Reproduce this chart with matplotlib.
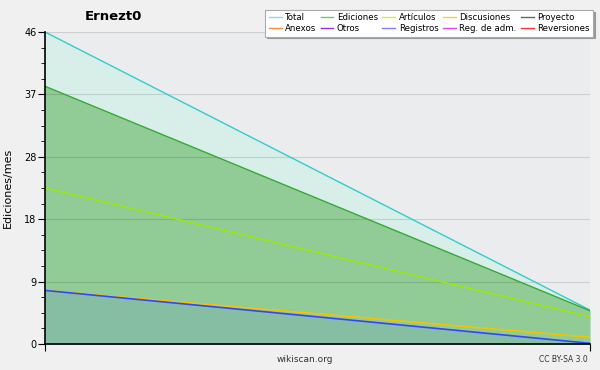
import matplotlib
matplotlib.use("Agg")
import matplotlib.pyplot as plt
from matplotlib.lines import Line2D

# two monthly points (start, end)
months = [0, 1]
total = [46.0, 5.0]
ediciones = [38.0, 4.9]
articulos = [23.0, 4.0]
discusiones = [7.9, 1.0]
registros = [7.9, 0.1]

legend_names = ["Total", "Ediciones", "Artículos", "Discusiones", "Proyecto",
                "Anexos", "Otros", "Registros", "Reg. de adm.", "Reversiones"]
legend_colors = ["#7fe0e0", "#66cc66", "#ccf533", "#ffcc33", "#666666",
                 "#ff8c3a", "#8a33e6", "#7f7fff", "#dd44ee", "#ff3333"]

y_ticks = [0, 9.2, 18.4, 27.6, 36.8, 46]
y_labels = ["0", "9", "18", "28", "37", "46"]

fig = plt.figure(figsize=(6, 3.7), dpi=100, facecolor="#f0f0f0")
ax = fig.add_axes([45 / 600, 1 - 344 / 370, 545 / 600, 312 / 370])
ax.set_facecolor("#ebecee")

ax.fill_between(months, total, color="#d8efe9", lw=0, zorder=1)
ax.fill_between(months, ediciones, color="#91cb95", lw=0, zorder=1)
ax.fill_between(months, registros, color="#86bea3", lw=0, zorder=1)

ax.plot(months, total, color="#33cccc", lw=1, zorder=3)
ax.plot(months, ediciones, color="#33aa33", lw=1, zorder=3)
ax.plot(months, articulos, color="#99ee00", lw=1, zorder=3)
ax.plot(months, discusiones, color="#f5c400", lw=1.2, zorder=3)
ax.plot(months, registros, color="#3344ff", lw=1.2, zorder=3)

ax.set_xlim(0, 1)
ax.set_ylim(0, 46)
ax.set_yticks(y_ticks)
ax.set_yticklabels(y_labels)
ax.set_yticks([i * 2.3 for i in range(21)], minor=True)
ax.set_xticks([0, 1])
ax.set_xticklabels([])
ax.tick_params(axis="y", which="major", length=5, labelsize=7, color="black", pad=1)
ax.tick_params(axis="y", which="minor", length=3)
ax.tick_params(axis="x", length=5)

# light gridlines drawn over the fills
for v in y_ticks[1:]:
    ax.axhline(v, color="black", alpha=0.12, lw=0.8, zorder=2)

for side in ["top", "right"]:
    ax.spines[side].set_visible(False)
ax.spines["left"].set_linewidth(1.2)
ax.spines["bottom"].set_linewidth(1.2)
ax.spines["left"].set_zorder(4)
ax.spines["bottom"].set_zorder(4)

ax.set_ylabel("Ediciones/mes", fontsize=8, labelpad=8)

# legend is filled row-wise in the reference
order = [0, 5, 1, 6, 2, 7, 3, 8, 4, 9]
handles = [Line2D([], [], color=legend_colors[i], lw=1) for i in order]
labels = [legend_names[i] for i in order]
leg = fig.legend(handles, labels, ncol=5, fontsize=6.2, loc="upper right",
                 bbox_to_anchor=(593 / 600, 1 - 10 / 370), frameon=True,
                 fancybox=False, edgecolor="#aaaaaa", handlelength=1.5,
                 handletextpad=0.4, columnspacing=0.5, labelspacing=0.2,
                 borderpad=0.4, borderaxespad=0, framealpha=1,
                 shadow={"color": "#999999", "alpha": 1, "ox": 1.2, "oy": -1.2})
leg.get_frame().set_linewidth(0.8)

fig.text(85 / 600, 1 - 17 / 370, "Ernezt0", fontsize=9.5, fontweight="bold", va="center")
fig.text(305 / 600, 1 - 359 / 370, "wikiscan.org", fontsize=6.5, ha="center", va="center", color="#333333")
fig.text(588 / 600, 1 - 360 / 370, "CC BY-SA 3.0", fontsize=5.5, ha="right", va="center", color="#333333")

fig.savefig("out.png", dpi=100, facecolor=fig.get_facecolor())
